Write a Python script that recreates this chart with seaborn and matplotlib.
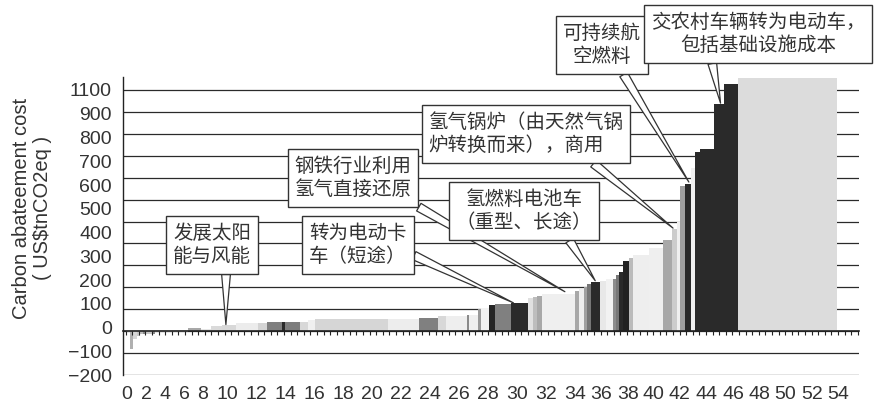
import numpy as np
import matplotlib
matplotlib.use("Agg")
import matplotlib.pyplot as plt
import seaborn as sns

# marginal abatement cost curve, bars left to right
# volume = abatement (bar width), cost = US$/tCO2eq (bar height)
volume = [0.30, 0.23, 0.30, 0.23, 0.23, 0.23, 0.45, 0.23, 0.38, 2.12,
          0.99, 0.76, 0.83, 1.06, 1.67, 0.68, 1.14, 0.23, 1.14, 0.61,
          0.53, 5.53, 2.35, 1.44, 0.61, 1.59, 0.15, 0.68, 0.23, 0.61,
          0.45, 1.21, 1.29, 0.38, 0.30, 0.38, 2.50, 0.30, 0.38, 0.23,
          0.30, 0.68, 0.45, 0.53, 0.23, 0.30, 0.30, 0.45, 0.30, 1.21,
          1.06, 0.68, 0.38, 0.23, 0.38, 0.45, 0.30, 0.38, 1.06, 0.76,
          1.06, 7.51]
cost = [-4, -80, -36, -22, -15, -15, -12, -12, -6, -2,
        15, 8, 22, 30, 38, 38, 40, 40, 44, 44,
        50, 57, 57, 61, 68, 68, 73, 73, 100, 104,
        119, 123, 129, 149, 157, 162, 169, 184, 192, 202,
        214, 224, 230, 237, 240, 255, 270, 319, 334, 347,
        380, 418, 464, 499, 663, 670, 742, 818, 829, 1036,
        1127, 1156]
shade = ["#d0d0d0", "#b0b0b0", "#d6d6d6", "#c8c8c8", "#bdbdbd", "#8a8a8a", "#c8c8c8", "#8a8a8a", "#d0d0d0", "#c8c8c8",
         "#a8a8a8", "#e6e6e6", "#dadada", "#d8d8d8", "#ececec", "#d4d4d4", "#7f7f7f", "#2a2a2a", "#7d7d7d", "#d8d8d8",
         "#f0f0f0", "#d6d6d6", "#ededed", "#808080", "#d8d8d8", "#eeeeee", "#8a8a8a", "#efefef", "#999999", "#f2f2f2",
         "#252525", "#808080", "#2a2a2a", "#e0e0e0", "#bdbdbd", "#a8a8a8", "#efefef", "#a8a8a8", "#eeeeee", "#a0a0a0",
         "#777777", "#2a2a2a", "#e8e8e8", "#f2f2f2", "#8c8c8c", "#777777", "#2a2a2a", "#222222", "#bbbbbb", "#eeeeee",
         "#efefef", "#a8a8a8", "#cccccc", "#f0f0f0", "#a0a0a0", "#2a2a2a", "#f0f0f0", "#2a2a2a", "#2a2a2a", "#2a2a2a",
         "#2a2a2a", "#dcdcdc"]

# axis text as it appears in the picture
ytick_text = ["1100", "900", "800", "700", "600", "500", "400", "300", "200", "100", "0", "\u2212100", "\u2212200"]
xtick_text = [str(v) for v in range(0, 56, 2)]
xtick_at = [0.10, 1.54, 2.98, 4.42, 5.86, 7.68, 9.88, 12.08, 14.28, 16.48, 18.67, 20.87, 23.07, 25.27,
            27.47, 29.67, 31.87, 34.06, 36.04, 38.09, 40.05, 42.02, 44.00, 46.05, 48.02, 50.00, 52.04, 54.01]

# callouts: text, target (volume, cost)
notes = ["发展太阳\n能与风能", "转为电动卡\n车（短途）", "钢铁行业利用\n氢气直接还原", "氢燃料电池车\n（重型、长途）",
         "氢气锅炉（由天然气锅\n炉转换而来），商用", "可持续航\n空燃料", "交农村车辆转为电动车，\n包括基础设施成本"]
note_x = [7.6, 29.4, 33.3, 35.6, 41.5, 42.7, 45.1]
note_y = [30, 129, 180, 230, 470, 680, 1040]

sns.set_style("white")
plt.rcParams["font.family"] = ["Liberation Sans", "DejaVu Sans"]
cjk = ["Noto Sans CJK SC", "DejaVu Sans"]
txt = "#333333"

fig = plt.figure(figsize=(8.78, 4.07), dpi=100)
ax = fig.add_axes([0.1401, 0.0786, 0.8383, 0.7326])
ax.set_xlim(-0.2, 55.6)
ax.set_ylim(-200, 1160)

left = np.concatenate([[0], np.cumsum(volume)[:-1]])
ax.bar(left, cost, width=volume, align="edge", color=shade, linewidth=0, zorder=2)

# gridlines every 100, tick labels spread as in the source
ax.yaxis.remove_overlapping_locs = False
ax.set_yticks(np.arange(-200, 1101, 100))
ax.set_yticklabels([])
ax.set_yticks(np.linspace(1100, -200, len(ytick_text)), minor=True)
ax.set_yticklabels(ytick_text, minor=True, fontsize=14, color=txt)
ax.tick_params(axis="y", which="major", length=4, width=0.9, color="#222222", direction="out")
ax.tick_params(axis="y", which="minor", length=0, pad=8)
ax.grid(axis="y", which="major", color="#2a2a2a", linewidth=0.9)
ax.grid(axis="x", visible=False)
ax.set_axisbelow(True)

ax.set_xticks(xtick_at)
ax.set_xticklabels(xtick_text, fontsize=14, color=txt)
ax.tick_params(axis="x", length=0, pad=8)

for s in ["top", "right", "bottom"]:
    ax.spines[s].set_visible(False)
ax.spines["left"].set_color("#222222")
ax.spines["left"].set_linewidth(1.0)

# zero baseline with small ticks
zero_frac = (0 - ax.get_ylim()[0]) / (ax.get_ylim()[1] - ax.get_ylim()[0])
base = ax.secondary_xaxis(zero_frac)
base.set_xticks(np.arange(0, 55.6, 0.5))
base.set_xticklabels([])
base.tick_params(length=3, width=0.8, color="#222222", direction="out")
base.spines["bottom"].set_color("#222222")
base.spines["bottom"].set_linewidth(1.2)
base.set_zorder(3)

ax.set_ylabel("Carbon abateement cost\n( US$tnCO2eq )", fontsize=14.5, color=txt, linespacing=1.1)
ax.yaxis.set_label_coords(-0.097, 0.56)

# callout boxes (figure pixels from top-left) and where the pointer leaves the box
box_px = [(212, 245), (358, 245), (353, 178), (524, 211), (526, 134), (602, 45), (758, 34)]
relpos = [(0.68, 0), (1, 0.34), (0.96, 0), (0.8, 0), (0.8, 0), (0.72, 0), (0.28, 0)]
align = ["center", "left", "center", "center", "left", "center", "center"]
H = fig.get_size_inches()[1] * fig.dpi
for i, label in enumerate(notes):
    px, py = box_px[i]
    ax.annotate(label, xy=(note_x[i], note_y[i]), xycoords="data",
                xytext=(px, H - py), textcoords="figure pixels",
                ha="center", va="center", multialignment=align[i],
                fontsize=14, family=cjk, weight="light", color=txt, linespacing=1.15,
                bbox=dict(boxstyle="square,pad=0.35", fc="white", ec="#333333", lw=1.0),
                arrowprops=dict(arrowstyle="wedge,tail_width=0.45,shrink_factor=0.5",
                                fc="white", ec="#333333", lw=0.9, relpos=relpos[i],
                                shrinkA=0, shrinkB=0),
                annotation_clip=False, zorder=5)

fig.savefig("out.png", dpi=100)
